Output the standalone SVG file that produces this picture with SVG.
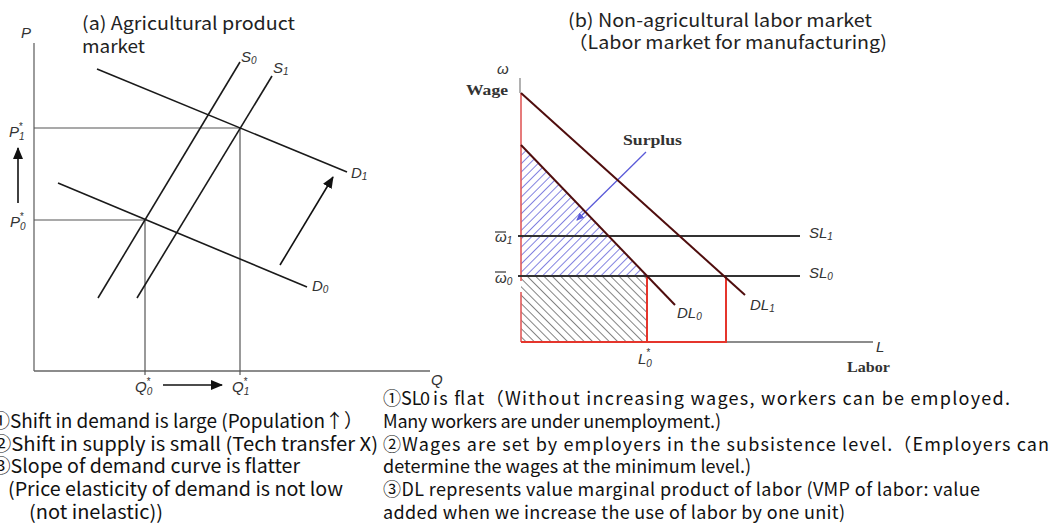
<svg xmlns="http://www.w3.org/2000/svg" width="1051" height="530" viewBox="0 0 1051 530">
<style>
.title{font-family:"Noto Sans CJK JP","Noto Sans",sans-serif;font-size:18px;fill:#222}
.note{font-family:"Noto Sans CJK JP","Noto Sans",sans-serif;font-size:19px;fill:#111}
.noteR{font-family:"Noto Sans CJK JP","Noto Sans",sans-serif;font-size:18px;fill:#111}
.lbl{font-family:"Liberation Sans",Arial,sans-serif;font-style:italic;font-size:15px;fill:#333}
.sub{font-size:10px}
.bold{font-family:"Liberation Serif","Times New Roman",serif;font-weight:bold;font-size:15px;fill:#333}
.axis{stroke:#666;stroke-width:1.3;fill:none}
.guide{stroke:#555;stroke-width:1.2;fill:none}
.curve{stroke:#1a1a1a;stroke-width:1.6;fill:none}
.dl{stroke:#4f0d0d;stroke-width:2;fill:none}
.red{stroke:#e5352c;stroke-width:2;fill:none}
.sl{stroke:#333;stroke-width:1.8;fill:none}
</style>
<defs>
<marker id="ah" markerUnits="userSpaceOnUse" markerWidth="12" markerHeight="10" refX="11" refY="5" orient="auto"><path d="M0,0 L12,5 L0,10 z" fill="#111"/></marker>
<marker id="ahb" markerUnits="userSpaceOnUse" markerWidth="8" markerHeight="7" refX="7" refY="3.5" orient="auto"><path d="M0,0 L8,3.5 L0,7 z" fill="#5a5ad8"/></marker>
<pattern id="hatchBlue" patternUnits="userSpaceOnUse" width="5.9" height="10" patternTransform="rotate(45)"><line x1="0" y1="0" x2="0" y2="10" stroke="#5b5bd6" stroke-width="1.5"/></pattern>
<pattern id="hatchBlack" patternUnits="userSpaceOnUse" width="5.9" height="10" patternTransform="rotate(-45)"><line x1="0" y1="0" x2="0" y2="10" stroke="#333" stroke-width="1.2"/></pattern>
</defs>
<rect width="1051" height="530" fill="#fff"/>

<g id="panel-a">
<text class="title" x="82" y="30" textLength="213" lengthAdjust="spacingAndGlyphs">(a) Agricultural product</text>
<text class="title" x="82" y="53" textLength="63" lengthAdjust="spacingAndGlyphs">market</text>
<line class="axis" x1="34" y1="43" x2="34" y2="371"/>
<line class="axis" x1="34" y1="371" x2="430" y2="371"/>
<text class="lbl" x="21" y="38" font-size="16">P</text>
<text class="lbl" x="431" y="385" font-size="16">Q</text>
<line class="guide" x1="34" y1="128" x2="240" y2="128"/>
<line class="guide" x1="34" y1="220" x2="145" y2="220"/>
<line class="guide" x1="145" y1="220" x2="145" y2="375"/>
<line class="guide" x1="240" y1="128" x2="240" y2="375"/>
<line class="curve" x1="97" y1="69" x2="347" y2="172"/>
<line class="curve" x1="58" y1="183" x2="307" y2="287"/>
<line class="curve" x1="98" y1="298" x2="240" y2="62"/>
<line class="curve" x1="137" y1="298" x2="272" y2="76"/>
<text class="lbl" x="241" y="62">S<tspan class="sub" dy="2">0</tspan></text>
<text class="lbl" x="273" y="73">S<tspan class="sub" dy="2">1</tspan></text>
<text class="lbl" x="351" y="178">D<tspan class="sub" dy="2">1</tspan></text>
<text class="lbl" x="312" y="291">D<tspan class="sub" dy="2">0</tspan></text>
<text class="lbl" x="9" y="137" font-size="13">P<tspan class="sub" dy="3">1</tspan><tspan class="sub" dx="-6" dy="-10">*</tspan></text>
<text class="lbl" x="10" y="227" font-size="13">P<tspan class="sub" dy="3">0</tspan><tspan class="sub" dx="-6" dy="-10">*</tspan></text>
<text class="lbl" x="135" y="392" font-size="13">Q<tspan class="sub" dy="3">0</tspan><tspan class="sub" dx="-6" dy="-10">*</tspan></text>
<text class="lbl" x="232" y="392" font-size="13">Q<tspan class="sub" dy="3">1</tspan><tspan class="sub" dx="-6" dy="-10">*</tspan></text>
</g>

<g id="connectors">
<line x1="18" y1="203" x2="18" y2="148" stroke="#111" stroke-width="1.6" marker-end="url(#ah)"/>
<line x1="280" y1="265" x2="333" y2="177" stroke="#111" stroke-width="1.6" marker-end="url(#ah)"/>
<line x1="163" y1="385" x2="222" y2="385" stroke="#111" stroke-width="1.6" marker-end="url(#ah)"/>
<line x1="646" y1="152" x2="577" y2="220" stroke="#5a5ad8" stroke-width="1.3" marker-end="url(#ahb)"/>
</g>

<g id="panel-b">
<text class="title" x="568" y="27" textLength="304" lengthAdjust="spacingAndGlyphs">(b) Non-agricultural labor market</text>
<text class="title" x="568" y="49" textLength="319" lengthAdjust="spacingAndGlyphs">（Labor market for manufacturing)</text>
<polygon points="521,145 647,276 521,276" fill="url(#hatchBlue)"/>
<rect x="521" y="276" width="126" height="66" fill="url(#hatchBlack)"/>
<line x1="520" y1="78" x2="520" y2="93" stroke="#888" stroke-width="1.3"/>
<line x1="521" y1="93" x2="521" y2="281" stroke="#e05a5a" stroke-width="1.6"/>
<line x1="521" y1="292" x2="521" y2="342" stroke="#e05a5a" stroke-width="1.6"/>
<line class="axis" x1="521" y1="342" x2="873" y2="342"/>
<polyline class="red" points="521,342 726,342 726,276"/>
<line class="red" x1="647" y1="276" x2="647" y2="342"/>
<line class="sl" x1="518" y1="236" x2="800" y2="236"/>
<line class="sl" x1="518" y1="276" x2="800" y2="276"/>
<line class="dl" x1="521" y1="93" x2="745" y2="295"/>
<line class="dl" x1="521" y1="145" x2="675" y2="305"/>
<text class="lbl" x="809" y="238">SL<tspan class="sub" dy="2">1</tspan></text>
<text class="lbl" x="809" y="278">SL<tspan class="sub" dy="2">0</tspan></text>
<text class="lbl" x="677" y="318">DL<tspan class="sub" dy="2">0</tspan></text>
<text class="lbl" x="750" y="310">DL<tspan class="sub" dy="2">1</tspan></text>
<text class="lbl" x="638" y="364" font-size="14">L<tspan class="sub" dy="3">0</tspan><tspan class="sub" dx="-6" dy="-11">*</tspan></text>
<text class="lbl" x="495" y="242">ω<tspan class="sub" dy="2">1</tspan></text>
<line x1="495" y1="232" x2="506" y2="232" stroke="#333" stroke-width="1.2"/>
<text class="lbl" x="495" y="283">ω<tspan class="sub" dy="2">0</tspan></text>
<line x1="495" y1="272" x2="506" y2="272" stroke="#333" stroke-width="1.2"/>
<text class="lbl" x="497" y="74" font-size="14">ω</text>
<text class="bold" x="466" y="95" font-size="14" textLength="42" lengthAdjust="spacingAndGlyphs">Wage</text>
<text class="bold" x="623" y="145" textLength="59" lengthAdjust="spacingAndGlyphs">Surplus</text>
<text class="lbl" x="876" y="352">L</text>
<text class="bold" x="847" y="372" font-size="14" textLength="43" lengthAdjust="spacingAndGlyphs">Labor</text>
</g>

<g id="notes-left">
<text class="note" x="-9" y="428" textLength="372" lengthAdjust="spacingAndGlyphs">①Shift in demand is large (Population↑）</text>
<text class="note" x="-9" y="451" textLength="387" lengthAdjust="spacingAndGlyphs">②Shift in supply is small (Tech transfer X)</text>
<text class="note" x="-9" y="473" textLength="309" lengthAdjust="spacingAndGlyphs">③Slope of demand curve is flatter</text>
<text class="note" x="8" y="496" textLength="335" lengthAdjust="spacingAndGlyphs">(Price elasticity of demand is not low</text>
<text class="note" x="29" y="519" textLength="134" lengthAdjust="spacingAndGlyphs">(not inelastic))</text>
</g>

<g id="notes-right">
<text class="noteR" x="383" y="405">①SL</text>
<text class="noteR" x="420" y="405" font-size="12">0</text>
<text class="noteR" x="433" y="405" textLength="577" lengthAdjust="spacing">is flat（Without increasing wages, workers can be employed.</text>
<text class="noteR" x="383" y="428" textLength="338" lengthAdjust="spacing">Many workers are under unemployment.)</text>
<text class="noteR" x="383" y="451" textLength="666" lengthAdjust="spacing">②Wages are set by employers in the subsistence level.（Employers can</text>
<text class="noteR" x="383" y="473" textLength="368" lengthAdjust="spacing">determine the wages at the minimum level.)</text>
<text class="noteR" x="383" y="496" textLength="597" lengthAdjust="spacing">③DL represents value marginal product of labor (VMP of labor: value</text>
<text class="noteR" x="383" y="519" textLength="462" lengthAdjust="spacing">added when we increase the use of labor by one unit)</text>
</g>
</svg>
